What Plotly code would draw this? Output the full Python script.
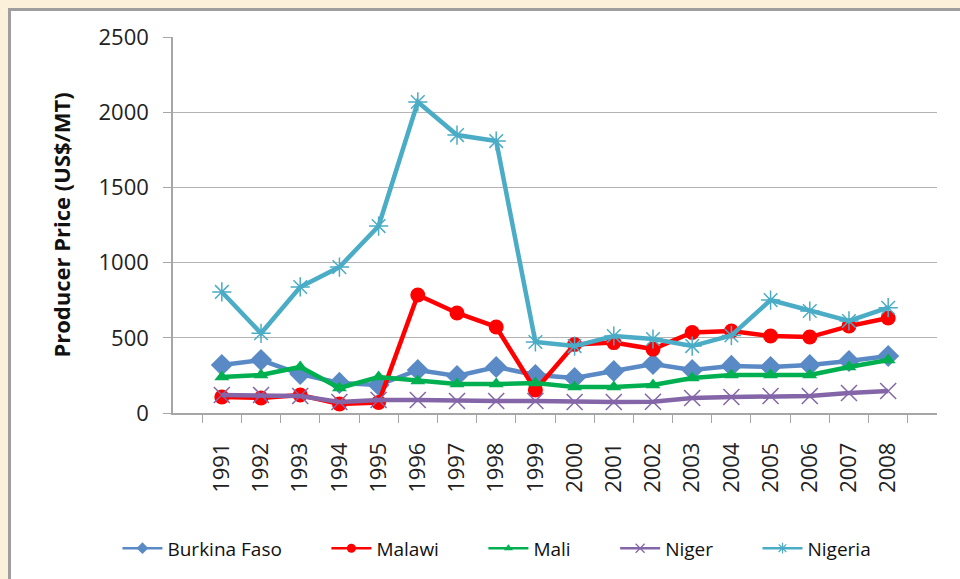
import plotly.graph_objects as go

years = [str(y) for y in range(1991, 2009)]
burkina = [319, 352, 259, 200, 186, 286, 246, 306, 253, 233, 279, 326, 286, 313, 306, 319, 346, 379]
malawi = [106, 100, 120, 60, 70, 785, 665, 572, 153, 455, 468, 425, 535, 545, 512, 505, 578, 632]
mali = [239, 253, 306, 166, 239, 213, 193, 193, 199, 173, 173, 186, 233, 253, 253, 253, 306, 352]
niger = [120, 120, 113, 73, 86, 86, 80, 80, 80, 73, 73, 75, 100, 106, 113, 113, 133, 146]
nigeria = [805, 530, 838, 970, 1243, 2068, 1848, 1808, 472, 445, 512, 492, 445, 515, 751, 678, 612, 700]

series = [
    ("Burkina Faso", burkina, "#5A8AC6", "diamond", 17, 0, 9),
    ("Malawi", malawi, "#FF0000", "circle", 15, 0, 9),
    ("Mali", mali, "#00B050", "triangle-up", 13, 0, 8),
    ("Niger", niger, "#8466A8", "x-thin-open", 16, 1.5, 9),
    ("Nigeria", nigeria, "#4BACC6", "asterisk-open", 16, 1.5, 9),
]
pad = "\u00a0" * 8
BEIGE = "#FBF1DA"
BORDER = "#9E9E9E"

fig = go.Figure()
for i, (name, vals, color, sym, size, mlw, lsize) in enumerate(series):
    marker = dict(symbol=sym, size=size, color=color)
    lmarker = dict(symbol=sym, size=lsize, color=color)
    if mlw:
        edge = "#B6A2D0" if name == "Niger" else "#7FCBE0"
        marker["line"] = dict(color=edge, width=mlw)
        lmarker["line"] = dict(color=edge, width=1.2)
    fig.add_trace(go.Scatter(
        x=years, y=vals, name=name, mode="lines+markers",
        line=dict(color=color, width=4.5),
        marker=marker, showlegend=False,
    ))
    fig.add_trace(go.Scatter(
        x=[None], y=[None], mode="lines+markers",
        name=name + (pad if i < len(series) - 1 else ""),
        line=dict(color=color, width=2.5), marker=lmarker,
    ))

# frame: beige strips on the left and top, gray border lines
fig.add_shape(type="rect", xref="paper", yref="paper", x0=-0.3, x1=-0.2153, y0=-1.0, y1=1.2,
              fillcolor=BEIGE, line=dict(width=0), layer="below")
fig.add_shape(type="rect", xref="paper", yref="paper", x0=-0.3, x1=1.6, y0=1.0758, y1=1.2,
              fillcolor=BEIGE, line=dict(width=0), layer="below")
fig.add_shape(type="line", xref="paper", yref="paper", x0=-0.2140, x1=-0.2140, y0=1.0770, y1=-1.0,
              line=dict(color=BORDER, width=3), layer="below")
fig.add_shape(type="line", xref="paper", yref="paper", x0=-0.2160, x1=1.6, y0=1.0731, y1=1.0731,
              line=dict(color=BORDER, width=3), layer="below")

fig.update_layout(
    width=960, height=579,
    paper_bgcolor="white",
    plot_bgcolor="white",
    margin=dict(l=173, r=23, t=37, b=166, autoexpand=False),
    font=dict(family="Open Sans, Liberation Sans, sans-serif", color="#222222"),
    legend=dict(orientation="h", x=0.424, xanchor="center", y=-0.36, yanchor="middle",
                font=dict(size=19, color="#111111"), bgcolor="rgba(0,0,0,0)",
                itemwidth=40, tracegroupgap=0),
    showlegend=True,
)
fig.update_xaxes(
    type="category", tickangle=-90, tickson="boundaries", automargin=False,
    ticks="outside", ticklen=8, tickcolor="#A6A6A6",
    showline=True, linecolor="#A6A6A6", linewidth=1.5,
    showgrid=False, tickfont=dict(size=22, color="#222222"),
    ticklabelstandoff=19,
)
fig.update_yaxes(
    range=[0, 2500], dtick=500, ticks="outside", ticklen=8, tickcolor="#A6A6A6",
    showline=True, linecolor="#A6A6A6", linewidth=1.5, automargin=False,
    showgrid=True, gridcolor="#B3B3B3", gridwidth=1.2, zeroline=False,
    tickfont=dict(size=22, color="#222222"),
    ticklabelstandoff=10,
    title=dict(text="<b>Producer Price (US$/MT)</b>", font=dict(size=22, color="#111111"), standoff=22),
)

fig.write_html(
    "out.html",
    config={"displayModeBar": False},
    post_script=(
        "document.documentElement.style.overflow='hidden';"
        "document.documentElement.style.margin='0';"
        "document.body.style.margin='0';"
        "document.body.style.overflow='hidden';"
        "document.body.style.background='#ffffff';"
    ),
)
